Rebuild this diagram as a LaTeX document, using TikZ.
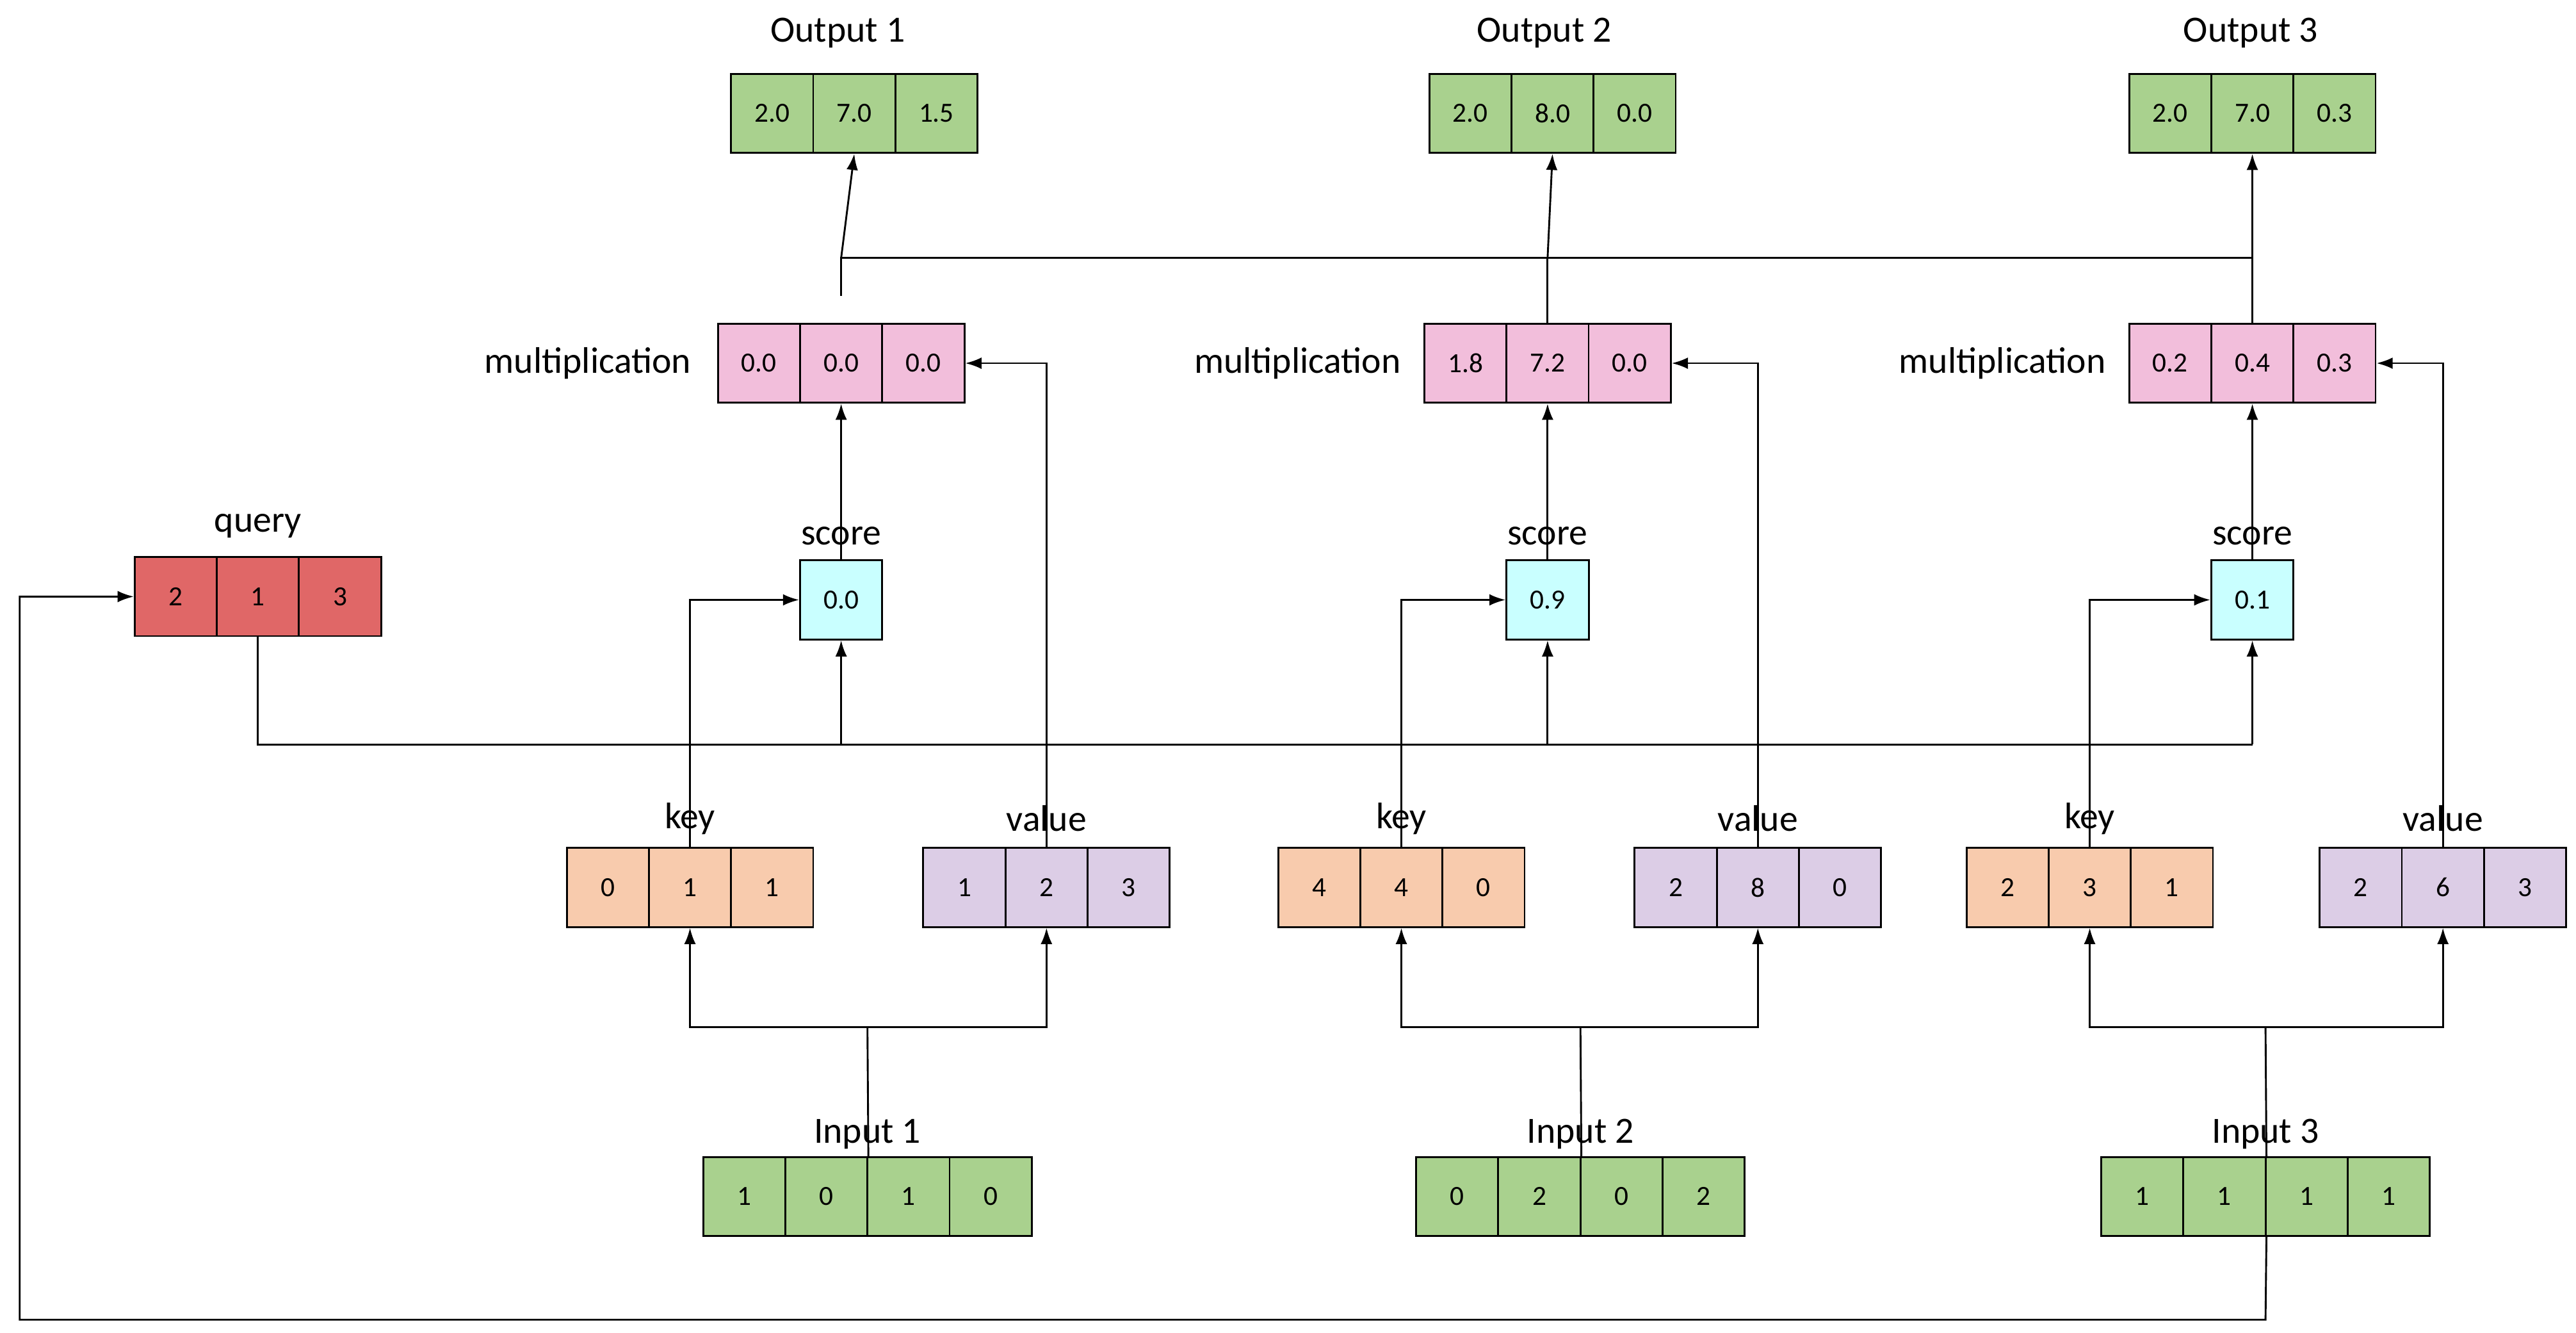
\documentclass[tikz,border=0pt]{standalone}
\usepackage{fontspec}
\setmainfont{Carlito}
\usetikzlibrary{arrows.meta}
\definecolor{cgreen}{HTML}{A9D18E}
\definecolor{cpink}{HTML}{F2BEDB}
\definecolor{ccyan}{HTML}{C9FFFF}
\definecolor{cred}{HTML}{E06767}
\definecolor{corange}{HTML}{F8CBAD}
\definecolor{cpurple}{HTML}{DCCDE6}
\tikzset{
 cell/.style={draw=black,line width=0.8pt,minimum width=1.25cm,minimum height=1.2cm,inner sep=0pt,font=\fontsize{12}{14}\selectfont},
 lbl/.style={font=\fontsize{16}{19}\selectfont,inner sep=0pt},
 conn/.style={line width=0.8pt},
 arr/.style={conn,-{Latex[length=7pt,width=5pt]}}
}
\newcommand\cellrow[5]{\foreach \v [count=\i] in {#5} \node[cell,fill=#4] (#1-\i) at ({#2+50*\i-25},#3) {\v};}
\begin{document}
\begin{tikzpicture}[x=0.025cm,y=-0.025cm]
\useasboundingbox (0,0) rectangle (1568,811);
% outputs
\cellrow{o1}{445}{69}{cgreen}{2.0,7.0,1.5}
\cellrow{o2}{870}{69}{cgreen}{2.0,8.0,0.0}
\cellrow{o3}{1296}{69}{cgreen}{2.0,7.0,0.3}
\node[lbl] (lo1) at (510,20) {Output 1};
\node[lbl] (lo2) at (940,20) {Output 2};
\node[lbl] (lo3) at (1370,20) {Output 3};
% multiplication
\cellrow{m1}{437}{221}{cpink}{0.0,0.0,0.0}
\cellrow{m2}{867}{221}{cpink}{1.8,7.2,0.0}
\cellrow{m3}{1296}{221}{cpink}{0.2,0.4,0.3}
\node[lbl,anchor=east] (lm1) at (421,221) {multiplication};
\node[lbl,anchor=east] (lm2) at (853,221) {multiplication};
\node[lbl,anchor=east] (lm3) at (1282,221) {multiplication};
% scores
\node[cell,fill=ccyan] (s1) at (512,365) {0.0};
\node[cell,fill=ccyan] (s2) at (942,365) {0.9};
\node[cell,fill=ccyan] (s3) at (1371,365) {0.1};
\node[lbl] (ls1) at (512,326) {score};
\node[lbl] (ls2) at (942,326) {score};
\node[lbl] (ls3) at (1371,326) {score};
% query
\cellrow{q}{82}{363}{cred}{2,1,3}
\node[lbl] (lq) at (157,320) {query};
% keys/values
\cellrow{k1}{345}{540}{corange}{0,1,1}
\cellrow{v1}{562}{540}{cpurple}{1,2,3}
\cellrow{k2}{778}{540}{corange}{4,4,0}
\cellrow{v2}{995}{540}{cpurple}{2,8,0}
\cellrow{k3}{1197}{540}{corange}{2,3,1}
\cellrow{v3}{1412}{540}{cpurple}{2,6,3}
\node[lbl] (lk1) at (420,498) {key};
\node[lbl] (lv1) at (637,498) {value};
\node[lbl] (lk2) at (853,498) {key};
\node[lbl] (lv2) at (1070,498) {value};
\node[lbl] (lk3) at (1272,498) {key};
\node[lbl] (lv3) at (1487,498) {value};
% inputs
\cellrow{i1}{428}{728}{cgreen}{1,0,1,0}
\cellrow{i2}{862}{728}{cgreen}{0,2,0,2}
\cellrow{i3}{1279}{728}{cgreen}{1,1,1,1}
\node[lbl] (li1) at (528,690) {Input 1};
\node[lbl] (li2) at (962,690) {Input 2};
\node[lbl] (li3) at (1379,690) {Input 3};
% connectors input -> key/value
\foreach \n/\x in {1/528,2/962,3/1379}{
 \coordinate (j\n) at (\x,625);
 \draw[conn] (i\n-2.north east) -- (j\n);
 \draw[arr] (j\n) -| (k\n-2.south);
 \draw[arr] (j\n) -| (v\n-2.south);
 \draw[arr] (k\n-2.north) |- (s\n.west);
 \draw[arr] (v\n-2.north) |- (m\n-3.east);
 \draw[arr] (s\n.north) -- (m\n-2.south);
}
% query line
\coordinate (ql) at (1371,453);
\draw[conn] (q-2.south) |- (ql);
\foreach \n in {1,2,3} \draw[arr] (s\n.south |- ql) -- (s\n.south);
% mult -> outputs
\coordinate (hl) at (1371,157);
\coordinate (g1) at (512,180);
\draw[conn] (g1) |- (hl);
\draw[conn] (m2-2.north) -- (m2-2.north |- hl);
\draw[conn] (m3-2.north) -- (hl);
\foreach \n in {1,2,3} \draw[arr] (m\n-2.north |- hl) -- (o\n-2.south);
% input 3 -> query
\coordinate (b1) at (1379,803);
\coordinate (b2) at (12,600);
\draw[arr] (i3-2.south east) -- (b1) -| (b2) |- (q-1.west);
\end{tikzpicture}
\end{document}
